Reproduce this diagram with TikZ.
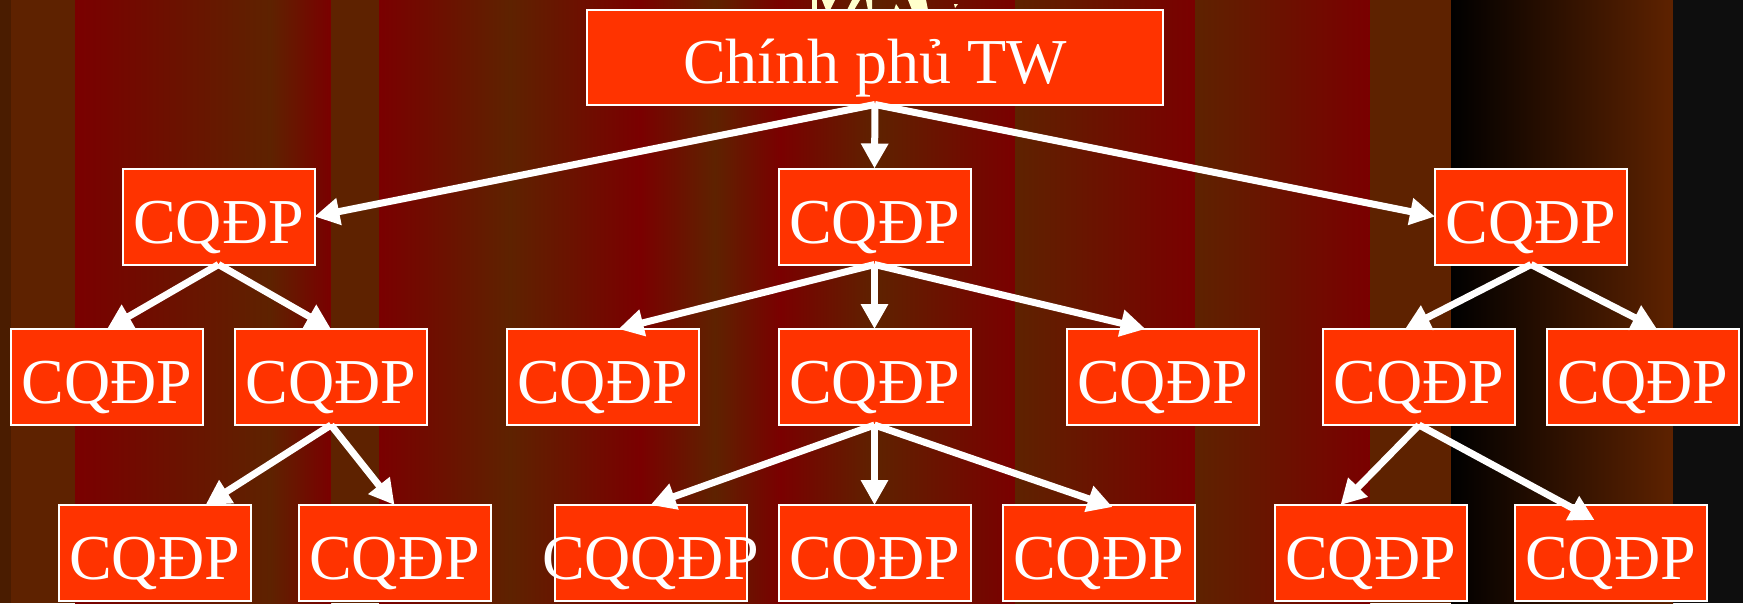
\documentclass[tikz,border=0pt]{standalone}
\usepackage{fontspec}
\setmainfont{Liberation Serif}
\usetikzlibrary{arrows.meta,calc}
\definecolor{bgred}{HTML}{7A0000}
\definecolor{bgbrown}{HTML}{5E2200}
\definecolor{bgdark}{HTML}{4A1C00}
\definecolor{bgblack}{HTML}{0E0E0E}
\definecolor{boxfill}{HTML}{FF3300}
\definecolor{cream}{HTML}{FFFFCC}
\tikzset{
  orgbox/.style={draw=white, line width=2pt, fill=boxfill, text=white,
    minimum width=192pt, minimum height=96pt, inner sep=0pt, outer sep=0pt,
    font=\fontsize{64}{64}\selectfont, text height=53pt, text depth=0pt},
  arr/.style={draw=white, line width=7pt, -{Triangle[length=25pt,width=26pt]}},
  glyphbit/.style={fill=cream},
}
\begin{document}
\begin{tikzpicture}[x=1pt,y=-1pt]
\useasboundingbox (0,0) rectangle (1743,603);
% background stripes
\fill[bgdark] (0,0) rectangle (11,603);
\fill[bgbrown] (11,0) rectangle (75,603);
\shade[left color=bgred,right color=bgbrown] (75,0) rectangle (270,603);
\shade[left color=bgbrown,right color=bgred] (270,0) rectangle (331,603);
\fill[bgbrown] (331,0) rectangle (379,603);
\shade[left color=bgred,right color=bgbrown] (379,0) rectangle (510,603);
\shade[left color=bgbrown,right color=bgred] (510,0) rectangle (640,603);
\shade[left color=bgred,right color=bgbrown] (640,0) rectangle (715,603);
\shade[left color=bgbrown,right color=bgred] (715,0) rectangle (780,603);
\shade[left color=bgred,right color=bgbrown] (780,0) rectangle (875,603);
\shade[left color=bgbrown,right color=bgred] (875,0) rectangle (1015,603);
\shade[left color=bgbrown,right color=bgred] (1015,0) rectangle (1195,603);
\shade[left color=bgbrown,right color=bgred] (1195,0) rectangle (1370,603);
\fill[bgbrown] (1370,0) rectangle (1451,603);
\shade[left color=black,right color=bgbrown] (1451,0) rectangle (1673,603);
\fill[bgblack] (1673,0) rectangle (1743,603);

% fragments of a hidden heading behind the title box
\fill[glyphbit] (812,0) rectangle (817,10);
\fill[glyphbit] (822,0) -- (835,0) -- (830,10) -- (826,10) -- cycle;
\fill[glyphbit] (852,0) -- (860,0) -- (854,10) -- (847,10) -- cycle;
\fill[glyphbit] (866,0) -- (872,0) -- (872,10) -- (868,10) -- cycle;
\fill[glyphbit] (896,4) -- (900,10) -- (894,10) -- cycle;
\fill[glyphbit] (908,0) -- (926,0) -- (928,10) -- (912,10) -- cycle;
\fill[glyphbit] (954,4) -- (958,4) -- (955,8) -- cycle;

% nodes
\node[orgbox, minimum width=576pt, minimum height=95pt] (top) at (875,57) {Chính phủ TW};

\node[orgbox] (l1a) at (218.5,216.5) {CQĐP};
\node[orgbox] (l1b) at (874.5,216.5) {CQĐP};
\node[orgbox] (l1c) at (1531,216.5) {CQĐP};

\node[orgbox] (l2a) at (107,377) {CQĐP};
\node[orgbox] (l2b) at (331,377) {CQĐP};
\node[orgbox] (l2c) at (602.5,377) {CQĐP};
\node[orgbox] (l2d) at (874.5,377) {CQĐP};
\node[orgbox] (l2e) at (1162.5,377) {CQĐP};
\node[orgbox] (l2f) at (1419,377) {CQĐP};
\node[orgbox] (l2g) at (1643,377) {CQĐP};

\node[orgbox] (l3a) at (154.5,553) {CQĐP};
\node[orgbox] (l3b) at (394.5,553) {CQĐP};
\node[orgbox] (l3c) at (650.5,553) {\makebox[0pt][c]{CQQĐP}};
\node[orgbox] (l3d) at (874.5,553) {CQĐP};
\node[orgbox] (l3e) at (1098.5,553) {CQĐP};
\node[orgbox] (l3f) at (1370.5,553) {CQĐP};
\node[orgbox] (l3g) at (1610.5,553) {CQĐP};

% connectors
\draw[arr] (top.south) -- (l1a.east);
\draw[arr] (top.south) -- (l1b.north);
\draw[arr] (top.south) -- (l1c.west);

\draw[arr] (l1a.south) -- (l2a.north);
\draw[arr] (l1a.south) -- (l2b.north);
\draw[arr] (l1b.south) -- ([xshift=16pt]l2c.north);
\draw[arr] (l1b.south) -- (l2d.north);
\draw[arr] (l1b.south) -- ([xshift=-17pt]l2e.north);
\draw[arr] (l1c.south) -- ([xshift=-14pt]l2f.north);
\draw[arr] (l1c.south) -- ([xshift=14pt]l2g.north);

\draw[arr] (l2b.south) -- ([xshift=51pt]l3a.north);
\draw[arr] (l2b.south) -- (l3b.north);
\draw[arr] (l2d.south) -- (l3c.north);
\draw[arr] (l2d.south) -- (l3d.north);
\draw[arr] (l2d.south) -- ([xshift=14pt,yshift=-2pt]l3e.north);
\draw[arr] (l2f.south) -- ([xshift=-30pt]l3f.north);
\draw[arr] (l2f.south) -- ([xshift=-16pt,yshift=-15pt]l3g.north);
\end{tikzpicture}
\end{document}
